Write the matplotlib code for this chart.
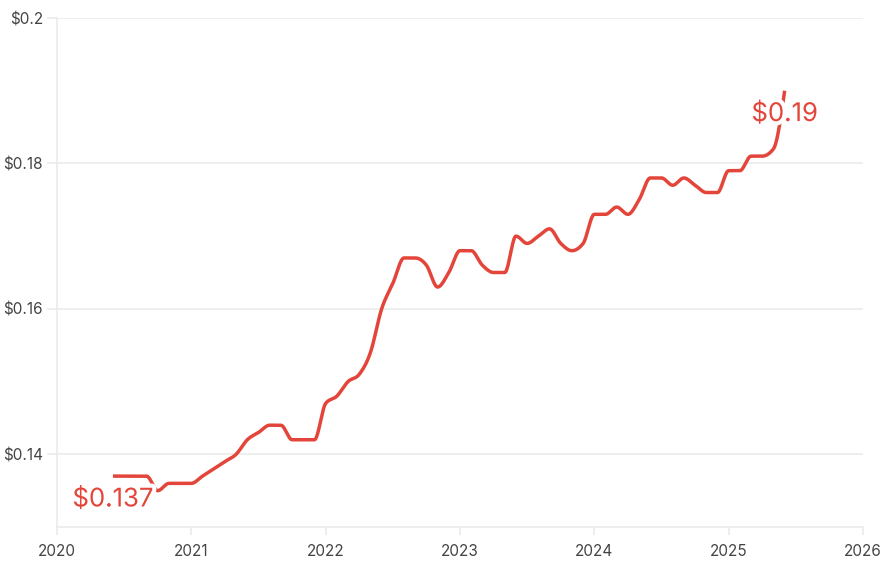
import numpy as np
import matplotlib.pyplot as plt
import matplotlib.patheffects as pe

# monthly price, Jun 2020 .. Jun 2025
start_year = 2020
start_month = 6
prices = [0.137, 0.137, 0.137, 0.137, 0.135, 0.136, 0.136, 0.136,
          0.137, 0.138, 0.139, 0.140, 0.142, 0.143, 0.144, 0.144, 0.142, 0.142, 0.142,
          0.147, 0.148, 0.150, 0.151, 0.154, 0.160, 0.1635, 0.167, 0.167, 0.166, 0.163, 0.165,
          0.168, 0.168, 0.166, 0.165, 0.165, 0.170, 0.169, 0.170, 0.171, 0.169, 0.168, 0.169,
          0.173, 0.173, 0.174, 0.173, 0.175, 0.178, 0.178, 0.177, 0.178, 0.177, 0.176, 0.176,
          0.179, 0.179, 0.181, 0.181, 0.182, 0.190]
year_ticks = [2020, 2021, 2022, 2023, 2024, 2025, 2026]
price_ticks = [0.14, 0.16, 0.18, 0.2]
price_labels = ['$0.14', '$0.16', '$0.18', '$0.2']

RED = '#e4453a'
GRID = '#ebebeb'
TXT = '#444444'


def monotone_x(x, y, steps=20):
    # monotone cubic curve (like d3 curveMonotoneX) for drawing
    x = np.asarray(x, float)
    y = np.asarray(y, float)
    n = len(x)
    h = np.diff(x)
    s = np.diff(y) / h
    t = np.zeros(n)
    for i in range(1, n - 1):
        if s[i - 1] * s[i] <= 0:
            t[i] = 0
        else:
            p = (s[i - 1] * h[i] + s[i] * h[i - 1]) / (h[i - 1] + h[i])
            t[i] = (np.sign(s[i - 1]) + np.sign(s[i])) * min(abs(s[i - 1]), abs(s[i]), 0.5 * abs(p))
    t[0] = (3 * s[0] - t[1]) / 2 if n > 2 else s[0]
    t[-1] = (3 * s[-1] - t[-2]) / 2 if n > 2 else s[-1]
    xs, ys = [], []
    for i in range(n - 1):
        u = np.linspace(0, 1, steps, endpoint=False)
        h00 = 2 * u**3 - 3 * u**2 + 1
        h10 = u**3 - 2 * u**2 + u
        h01 = -2 * u**3 + 3 * u**2
        h11 = u**3 - u**2
        xs.append(x[i] + u * h[i])
        ys.append(h00 * y[i] + h10 * h[i] * t[i] + h01 * y[i + 1] + h11 * h[i] * t[i + 1])
    xs.append([x[-1]])
    ys.append([y[-1]])
    return np.concatenate(xs), np.concatenate(ys)


def main():
    plt.rcParams['font.family'] = ['Inter', 'DejaVu Sans']
    months = np.arange(len(prices))
    x = start_year + (start_month - 1 + months) / 12.0

    fig = plt.figure(figsize=(8.9, 5.67), dpi=100)
    ax = fig.add_axes([57 / 890, 40 / 567, 806 / 890, 509 / 567])

    cx, cy = monotone_x(x, prices)
    ax.plot(cx, cy, color=RED, lw=2.5, solid_capstyle='butt', zorder=3)

    ax.set_xlim(2020, 2026)
    ax.set_ylim(0.13, 0.2)
    ax.set_xticks(year_ticks)
    ax.set_xticklabels([str(v) for v in year_ticks])
    ax.set_yticks(price_ticks)
    ax.set_yticklabels(price_labels)
    ax.grid(axis='y', color=GRID, lw=1.2, zorder=0)
    for side in ['top', 'right']:
        ax.spines[side].set_visible(False)
    for side in ['left', 'bottom']:
        ax.spines[side].set_color(GRID)
        ax.spines[side].set_linewidth(1.2)
    ax.tick_params(axis='both', colors=GRID, labelcolor=TXT, labelsize=11, width=1.2)
    ax.tick_params(axis='y', length=7, pad=3)
    ax.tick_params(axis='x', length=6, pad=6)

    halo = [pe.withStroke(linewidth=6, foreground='white')]
    for xi, yi, lab in [(x[0], prices[0], '$0.137'), (x[-1], prices[-1], '$0.19')]:
        ax.annotate(lab, (xi, yi), xytext=(0, -16.8), textcoords='offset points',
                    ha='center', va='center', color=RED, fontsize=18.5,
                    path_effects=halo, zorder=4)

    fig.savefig('out.png', dpi=100)


if __name__ == '__main__':
    main()
